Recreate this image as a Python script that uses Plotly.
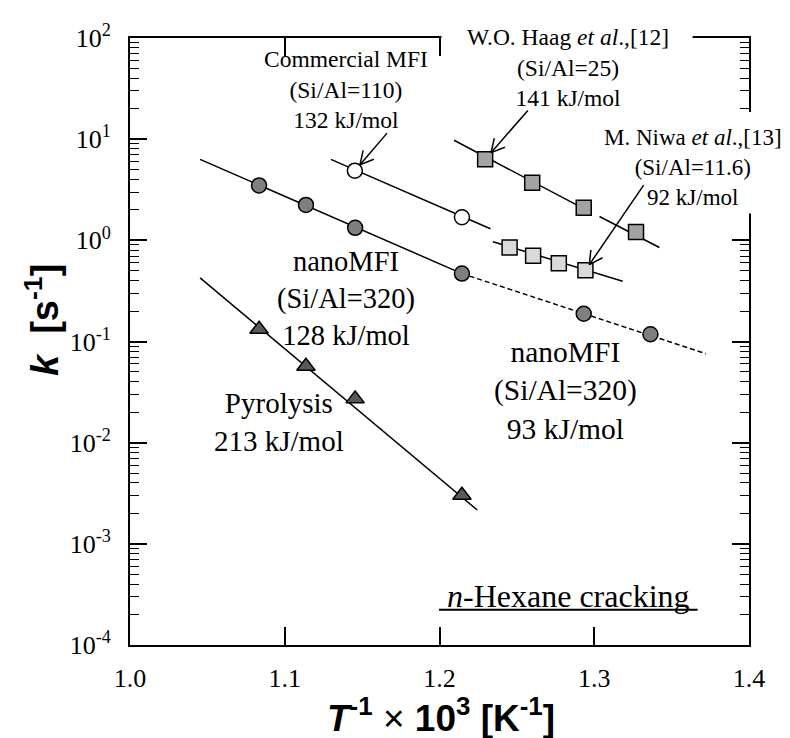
import plotly.graph_objects as go
import math

# ---------------- data ----------------
# nanoMFI (Si/Al=320), gray circles
nano_x = [1.0834, 1.1137, 1.1455, 1.2145, 1.2932, 1.3363]
nano_k = [3.49, 2.24, 1.33, 0.469, 0.188, 0.118]
# fit lines for nanoMFI (high-T solid, low-T dashed)
nano_fit_hi_x = [1.0453, 1.2145]
nano_fit_hi_k = [6.32, 0.469]
nano_fit_lo_x = [1.2145, 1.3721]
nano_fit_lo_k = [0.469, 0.0757]

# Commercial MFI (Si/Al=110), open circles
comm_x = [1.1453, 1.2145]
comm_k = [4.88, 1.69]
comm_fit_x = [1.1298, 1.2329]
comm_fit_k = [6.32, 1.30]

# W.O. Haag et al. (Si/Al=25), dark gray squares
haag_x = [1.2295, 1.2599, 1.2932, 1.3270]
haag_k = [6.32, 3.70, 2.10, 1.21]
haag_fit1_x = [1.2094, 1.2969]
haag_fit1_k = [9.75, 1.92]
haag_fit2_x = [1.3034, 1.3421]
haag_fit2_k = [1.72, 0.849]

# M. Niwa et al. (Si/Al=11.6), light gray squares
niwa_x = [1.2453, 1.2605, 1.2771, 1.2943]
niwa_k = [0.849, 0.705, 0.594, 0.505]
niwa_fit_x = [1.2345, 1.3184]
niwa_fit_k = [0.97, 0.394]

# Pyrolysis, triangles
pyro_x = [1.0834, 1.1137, 1.1455, 1.2145]
pyro_k = [0.132, 0.057, 0.0271, 0.00302]
pyro_fit_x = [1.0453, 1.2244]
pyro_fit_k = [0.425, 0.00216]

x_ticks = [1.0, 1.1, 1.2, 1.3, 1.4]
x_ticktext = ["1.0", "1.1", "1.2", "1.3", "1.4"]
y_ticks = [1e-4, 1e-3, 1e-2, 1e-1, 1e0, 1e1, 1e2]
y_ticktext = ["10<sup>-4</sup>", "10<sup>-3</sup>", "10<sup>-2</sup>", "10<sup>-1</sup>",
              "10<sup>0</sup>", "10<sup>1</sup>", "10<sup>2</sup>"]

# ---------------- layout geometry ----------------
W, H = 790, 738
L, R, T, B = 121.5, 741.5, 18, 637
X_RANGE = [1.0, 1.4]
Y_RANGE = [-4, 2]


def px(xp):
    return (xp - L) / (R - L)


def py(yp):
    return (B - yp) / (B - T)


def data_to_pix(x, k):
    X = L + (x - X_RANGE[0]) / (X_RANGE[1] - X_RANGE[0]) * (R - L)
    Y = T + (Y_RANGE[1] - math.log10(k)) / (Y_RANGE[1] - Y_RANGE[0]) * (B - T)
    return X, Y


SERIF = "Liberation Serif"
SANS = "Liberation Sans"

fig = go.Figure()


def add_line(x, k, dash="solid"):
    fig.add_trace(go.Scatter(x=x, y=k, mode="lines",
                             line=dict(color="black", width=1.5, dash=dash),
                             showlegend=False, hoverinfo="skip"))


add_line(nano_fit_hi_x, nano_fit_hi_k)
add_line(nano_fit_lo_x, nano_fit_lo_k, dash="5px,3px")
add_line(comm_fit_x, comm_fit_k)
add_line(haag_fit1_x, haag_fit1_k)
add_line(haag_fit2_x, haag_fit2_k)
add_line(niwa_fit_x, niwa_fit_k)
add_line(pyro_fit_x, pyro_fit_k)


def add_markers(x, k, symbol, fill, size):
    fig.add_trace(go.Scatter(x=x, y=k, mode="markers",
                             marker=dict(symbol=symbol, color=fill, size=size,
                                         line=dict(color="black", width=1.5)),
                             showlegend=False))


add_markers(nano_x, nano_k, "circle", "#7f7f7f", 15)
add_markers(comm_x, comm_k, "circle", "white", 15)
add_markers(haag_x, haag_k, "square", "#a3a3a3", 15)
add_markers(niwa_x, niwa_k, "square", "#dadada", 15)
add_markers(pyro_x, pyro_k, "triangle-up", "#595959", 16)

# white covers that break the frame behind the labels
shapes = [
    dict(type="rect", xref="paper", yref="paper", layer="above",
         x0=px(433.5), x1=px(685), y0=py(8), y1=py(42),
         fillcolor="white", line=dict(width=0)),
    dict(type="rect", xref="paper", yref="paper", layer="above",
         x0=px(700), x1=px(760), y0=py(93.5), y1=py(197),
         fillcolor="white", line=dict(width=0)),
    # underline of "n-Hexane cracking"
    dict(type="line", xref="paper", yref="paper", layer="above",
         x0=px(431), x1=px(690), y0=py(601), y1=py(601),
         line=dict(color="black", width=2)),
]


def arrow(start, x, k, r):
    """Open-V arrow from pixel point `start` to the marker at (x, k)."""
    cx, cy = data_to_pix(x, k)
    sx, sy = start
    dx, dy = sx - cx, sy - cy
    d = math.hypot(dx, dy)
    ux, uy = dx / d, dy / d
    tx, ty = cx + ux * r, cy + uy * r
    segs = [((sx, sy), (tx, ty))]
    for ang in (28, -28):
        a = math.radians(ang)
        wx = ux * math.cos(a) - uy * math.sin(a)
        wy = ux * math.sin(a) + uy * math.cos(a)
        segs.append(((tx, ty), (tx + wx * 15, ty + wy * 15)))
    for (x0, y0), (x1, y1) in segs:
        shapes.append(dict(type="line", xref="paper", yref="paper", layer="above",
                           x0=px(x0), y0=py(y0), x1=px(x1), y1=py(y1),
                           line=dict(color="black", width=1.5)))


arrow((379, 115), comm_x[0], comm_k[0], 8)
arrow((520, 92), haag_x[0], haag_k[0], 9)
arrow((636, 168), niwa_x[3], niwa_k[3], 7)

ann = []


def text(xp_, yp_, t, size):
    ann.append(dict(xref="paper", yref="paper", x=px(xp_), y=py(yp_), text=t,
                    showarrow=False, xanchor="center", yanchor="middle",
                    align="center", font=dict(family=SERIF, size=size, color="black")))


text(338, 70.5, "Commercial MFI<br>(Si/Al=110)<br>132 kJ/mol", 23.5)
text(560, 48.5, "W.O. Haag <i>et al</i>.,[12]<br>(Si/Al=25)<br>141 kJ/mol", 23.5)
text(685, 150, "M. Niwa <i>et al</i>.,[13]<br>(Si/Al=11.6)<br>92 kJ/mol", 23)
text(338, 284, "nanoMFI<br>(Si/Al=320)<br>128 kJ/mol", 28.5)
text(271, 410, "Pyrolysis<br>213 kJ/mol", 29)
text(558, 377, "nanoMFI<br>(Si/Al=320)<br>93 kJ/mol", 29.5)
text(561, 587, "<i>n</i>-Hexane cracking", 32)

# axis titles
ann.append(dict(xref="paper", yref="paper", x=px(433), y=py(709),
                text="<b><i>T</i><sup>-1</sup></b> × <b>10<sup>3</sup> [K<sup>-1</sup>]</b>",
                showarrow=False, xanchor="center", yanchor="middle",
                font=dict(family=SANS, size=37, color="black")))
ann.append(dict(xref="paper", yref="paper", x=px(34), y=py(306),
                text="<b><i>k</i>  [s<sup>-1</sup>]</b>", textangle=-90,
                showarrow=False, xanchor="center", yanchor="middle",
                font=dict(family=SANS, size=38, color="black")))

fig.update_layout(
    width=W, height=H,
    margin=dict(l=L, r=W - R, t=T, b=H - B),
    paper_bgcolor="white", plot_bgcolor="white",
    showlegend=False,
    shapes=shapes, annotations=ann,
    xaxis=dict(range=X_RANGE, tickvals=x_ticks, ticktext=x_ticktext,
               ticks="inside", ticklen=18, tickwidth=1.5, tickcolor="black",
               showline=True, linecolor="black", linewidth=2, mirror="allticks",
               showgrid=False, zeroline=False, ticklabelstandoff=9,
               tickfont=dict(family=SERIF, size=26, color="black")),
    yaxis=dict(type="log", range=Y_RANGE, tickvals=y_ticks, ticktext=y_ticktext,
               ticks="inside", ticklen=17, tickwidth=1.5, tickcolor="black",
               showline=True, linecolor="black", linewidth=2, mirror="allticks",
               showgrid=False, zeroline=False, ticklabelstandoff=12,
               minor=dict(ticks="inside", ticklen=9, tickwidth=1.2, tickcolor="black",
                          dtick="D1", showgrid=False),
               tickfont=dict(family=SERIF, size=26, color="black")),
)

fig.write_html("out.html")
